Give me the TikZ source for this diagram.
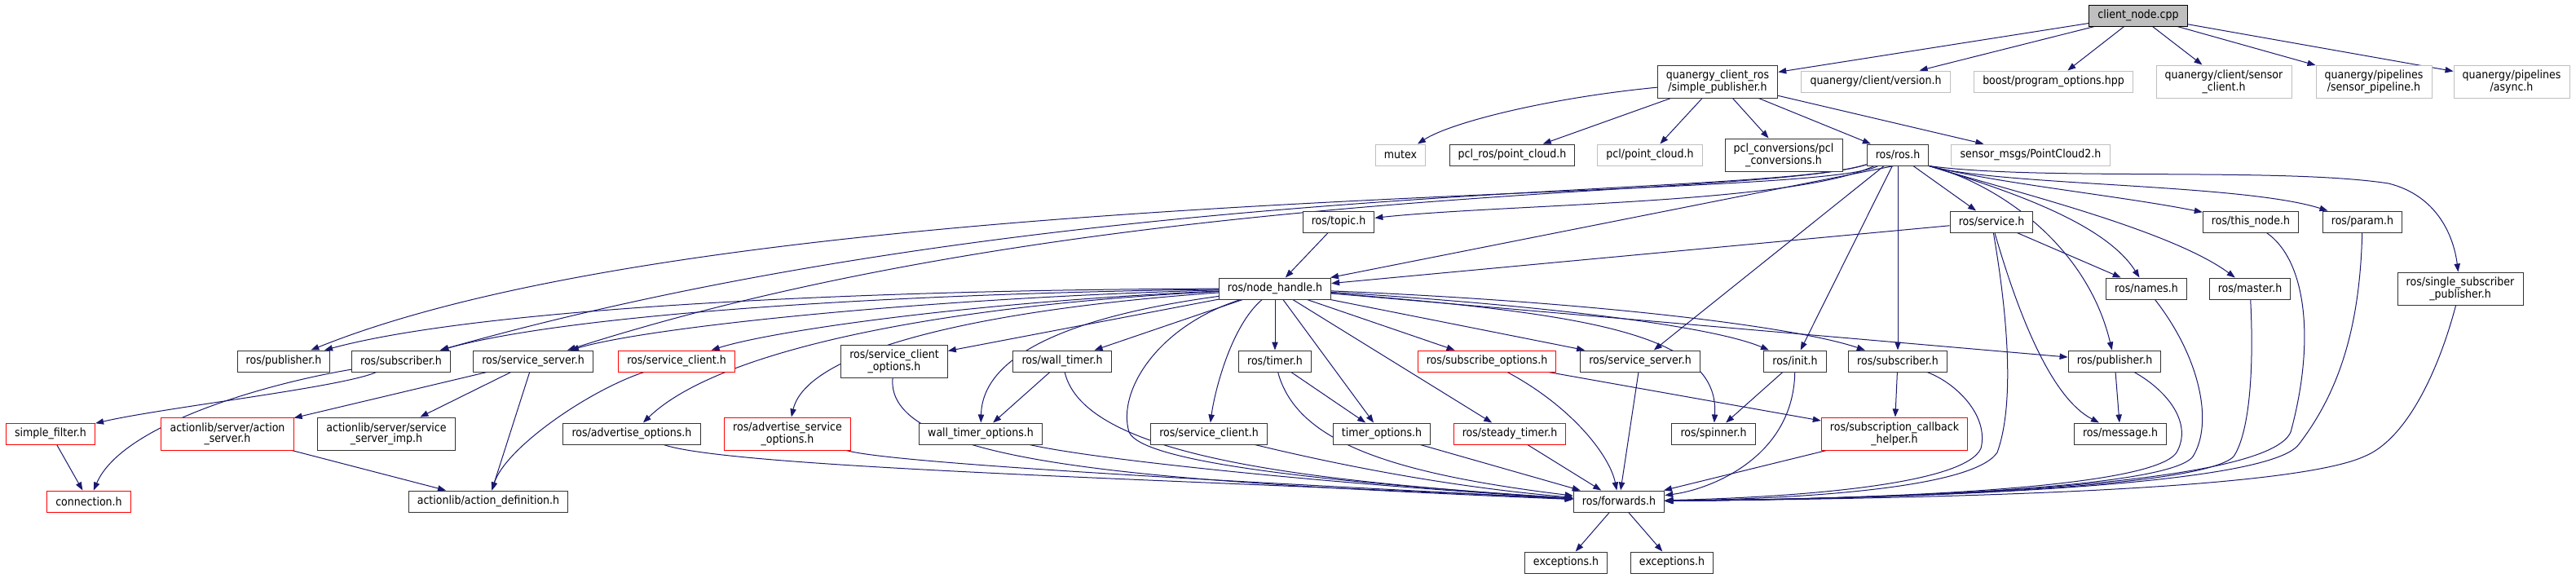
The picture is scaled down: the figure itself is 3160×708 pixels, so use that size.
\documentclass[tikz,border=0pt]{standalone}
\usepackage{fontspec}
\setmainfont{DejaVu Sans Condensed}
\usetikzlibrary{arrows.meta}
\definecolor{edgeblue}{RGB}{25,25,112}
\pgfdeclarelayer{edges}
\pgfsetlayers{edges,main}
\begin{document}
\begin{tikzpicture}[x=0.75pt,y=-0.75pt]
	\tikzstyle{file} = [rectangle, draw=black!80, line width=0.75pt, fill=white, inner xsep=8pt, inner ysep=0pt, minimum height=19.5pt, align=center, font=\fontsize{10.5}{10}\selectfont]
	\tikzstyle{tall} = [minimum height=30pt]
	\tikzstyle{extern} = [draw=black!25]
	\tikzstyle{cut} = [draw=red]
	\tikzstyle{edge} = [draw=edgeblue, line width=0.75pt, -{Triangle[length=7.5pt,width=5.5pt]}]
	\useasboundingbox (0,0) rectangle (3160,708);
	% top rows
	\node [file, fill=black!25, draw=black] (root) at (2623,19) {client\_node.cpp};
	\node [file, tall] (simplepub) at (2107,100) {quanergy\_client\_ros\\/simple\_publisher.h};
	\node [file, extern] (version) at (2301,100) {quanergy/client/version.h};
	\node [file, extern] (boostpo) at (2519,100) {boost/program\_options.hpp};
	\node [file, extern, tall] (sensorclient) at (2728,100) {quanergy/client/sensor\\\_client.h};
	\node [file, extern, tall] (sensorpipe) at (2912,100) {quanergy/pipelines\\/sensor\_pipeline.h};
	\node [file, extern, tall] (async) at (3081,100) {quanergy/pipelines\\/async.h};
	\node [file, extern] (mutex) at (1718,190) {mutex};
	\node [file] (pclros) at (1855,190) {pcl\_ros/point\_cloud.h};
	\node [file, extern] (pclpc) at (2024,190) {pcl/point\_cloud.h};
	\node [file, tall] (pclconv) at (2188,190) {pcl\_conversions/pcl\\\_conversions.h};
	\node [file] (rosh) at (2328,190) {ros/ros.h};
	\node [file, extern] (pc2) at (2491,190) {sensor\_msgs/PointCloud2.h};
	\node [file] (topic) at (1642,272) {ros/topic.h};
	\node [file] (service) at (2443,272) {ros/service.h};
	\node [file] (thisnode) at (2761,272) {ros/this\_node.h};
	\node [file] (param) at (2898,272) {ros/param.h};
	\node [file] (nodehandle) at (1564,354) {ros/node\_handle.h};
	\node [file] (names) at (2633,354) {ros/names.h};
	\node [file] (master) at (2760,354) {ros/master.h};
	\node [file, tall] (singlesub) at (3018,354) {ros/single\_subscriber\\\_publisher.h};
	% middle row
	\node [file] (pubL) at (348,443) {ros/publisher.h};
	\node [file] (subL) at (492,443) {ros/subscriber.h};
	\node [file] (srvsrvL) at (654,443) {ros/service\_server.h};
	\node [file, cut] (srvcliR) at (830,443) {ros/service\_client.h};
	\node [file, tall] (srvcliopt) at (1097,443) {ros/service\_client\\\_options.h};
	\node [file] (walltimer) at (1303,443) {ros/wall\_timer.h};
	\node [file] (timer) at (1564,443) {ros/timer.h};
	\node [file, cut] (subopt) at (1824,443) {ros/subscribe\_options.h};
	\node [file] (srvsrv) at (2012,443) {ros/service\_server.h};
	\node [file] (init) at (2202,443) {ros/init.h};
	\node [file] (sub) at (2328,443) {ros/subscriber.h};
	\node [file] (pubR) at (2594,443) {ros/publisher.h};
	% lower rows
	\node [file, cut] (simplefilter) at (62,532) {simple\_filter.h};
	\node [file, cut, tall] (actsrv) at (279,532) {actionlib/server/action\\\_server.h};
	\node [file, tall] (srvimp) at (474,532) {actionlib/server/service\\\_server\_imp.h};
	\node [file] (advopt) at (775,532) {ros/advertise\_options.h};
	\node [file, cut, tall] (advsrvopt) at (966,532) {ros/advertise\_service\\\_options.h};
	\node [file] (walltimeropt) at (1203,532) {wall\_timer\_options.h};
	\node [file] (srvcli) at (1483,532) {ros/service\_client.h};
	\node [file] (timeropt) at (1695,532) {timer\_options.h};
	\node [file, cut] (steady) at (1852,532) {ros/steady\_timer.h};
	\node [file] (spinner) at (2102,532) {ros/spinner.h};
	\node [file, cut, tall] (subcb) at (2324,532) {ros/subscription\_callback\\\_helper.h};
	\node [file] (message) at (2601,532) {ros/message.h};
	\node [file, cut] (connection) at (109,615) {connection.h};
	\node [file] (actdef) at (599,615) {actionlib/action\_definition.h};
	\node [file] (forwards) at (1986,615) {ros/forwards.h};
	\node [file] (exca) at (1921,690) {exceptions.h};
	\node [file] (excb) at (2051,690) {exceptions.h};
	\begin{pgfonlayer}{edges}
	% client_node.cpp
	\draw [edge] (root) to (simplepub);
	\draw [edge] (root) to (version);
	\draw [edge] (root) to (boostpo);
	\draw [edge] (root) to (sensorclient);
	\draw [edge] (root) to (sensorpipe);
	\draw [edge] (root) to (async);
	% simple_publisher.h
	\draw [edge] (simplepub) .. controls (1900,120) and (1780,150) .. (mutex);
	\draw [edge] (simplepub) to (pclros);
	\draw [edge] (simplepub) to (pclpc);
	\draw [edge] (simplepub) to (pclconv);
	\draw [edge] (simplepub) to (rosh);
	\draw [edge] (simplepub) to (pc2);
	% ros.h
	\draw [edge] (rosh) .. controls (2200,250) and (1850,250) .. (topic);
	\draw [edge] (rosh.250) to (nodehandle);
	\draw [edge] (rosh) .. controls (2220,250) and (900,220) .. (pubL);
	\draw [edge] (rosh) .. controls (2150,245) and (1300,215) .. (subL);
	\draw [edge] (rosh) .. controls (2150,245) and (1350,220) .. (srvsrvL);
	\draw [edge] (rosh) to (srvsrv);
	\draw [edge] (rosh) to (init);
	\draw [edge] (rosh) to (sub);
	\draw [edge] (rosh) to (service);
	\draw [edge] (rosh.south east) .. controls (2450,225) and (2600,240) .. (thisnode);
	\draw [edge] (rosh.south east) .. controls (2450,228) and (2750,225) .. (param);
	\draw [edge] (rosh.south east) .. controls (2500,222) and (2800,205) .. (2930,225) .. controls (2990,240) and (3010,290) .. (singlesub);
	\draw [edge] (rosh.south east) .. controls (2450,230) and (2580,270) .. (names);
	\draw [edge] (rosh.south east) .. controls (2450,230) and (2660,280) .. (master);
	\draw [edge] (rosh.south east) .. controls (2450,225) and (2560,300) .. (pubR);
	\draw [edge] (topic) to (nodehandle);
	\draw [edge] (service) to (nodehandle);
	\draw [edge] (service) to (names);
	\draw [edge] (service) .. controls (2480,400) and (2520,490) .. (message);
	% node_handle.h
	\draw [edge] (nodehandle) .. controls (1100,355) and (600,375) .. (pubL);
	\draw [edge] (nodehandle) .. controls (1100,360) and (700,385) .. (subL);
	\draw [edge] (nodehandle) .. controls (1150,365) and (800,400) .. (srvsrvL);
	\draw [edge] (nodehandle) .. controls (1200,370) and (950,405) .. (srvcliR);
	\draw [edge] (nodehandle) .. controls (1150,375) and (880,430) .. (advopt);
	\draw [edge] (nodehandle) .. controls (1200,380) and (990,430) .. (advsrvopt);
	\draw [edge] (nodehandle) to (srvcliopt);
	\draw [edge] (nodehandle) .. controls (1300,390) and (1205,440) .. (walltimeropt);
	\draw [edge] (nodehandle) to (walltimer);
	\draw [edge] (nodehandle) .. controls (1420,400) and (1370,480) .. (1385,530) .. controls (1400,565) and (1600,590) .. (forwards);
	\draw [edge] (nodehandle) .. controls (1510,400) and (1490,480) .. (srvcli);
	\draw [edge] (nodehandle) to (timer);
	\draw [edge] (nodehandle) to (timeropt);
	\draw [edge] (nodehandle) to (steady);
	\draw [edge] (nodehandle) to (subopt);
	\draw [edge] (nodehandle) to (srvsrv);
	\draw [edge] (nodehandle) .. controls (1900,375) and (2100,400) .. (init);
	\draw [edge] (nodehandle) .. controls (1950,370) and (2200,400) .. (sub);
	\draw [edge] (nodehandle) to (pubR);
	\draw [edge] (nodehandle) .. controls (1950,385) and (2110,410) .. (spinner);
	% left branch
	\draw [edge] (subL) .. controls (420,475) and (200,500) .. (simplefilter);
	\draw [edge] (subL) .. controls (330,470) and (150,520) .. (connection);
	\draw [edge] (simplefilter) to (connection);
	\draw [edge] (srvsrvL) to (actsrv);
	\draw [edge] (srvsrvL) to (srvimp);
	\draw [edge] (srvsrvL) to (actdef);
	\draw [edge] (srvcliR) .. controls (720,480) and (620,550) .. (actdef);
	\draw [edge] (actsrv) to (actdef);
	% middle
	\draw [edge] (walltimer) to (walltimeropt);
	\draw [edge] (timer) to (timeropt);
	\draw [edge] (subopt) to (subcb);
	\draw [edge] (sub) to (subcb);
	\draw [edge] (init) to (spinner);
	\draw [edge] (pubR) to (message);
	% into forwards.h
	\draw [edge] (advopt) .. controls (900,575) and (1500,590) .. (forwards);
	\draw [edge] (advsrvopt) .. controls (1100,570) and (1600,595) .. (forwards);
	\draw [edge] (srvcliopt) .. controls (1085,570) and (1400,590) .. (forwards);
	\draw [edge] (walltimeropt) .. controls (1350,565) and (1650,595) .. (forwards);
	\draw [edge] (walltimer) .. controls (1330,560) and (1600,590) .. (forwards);
	\draw [edge] (srvcli) .. controls (1600,560) and (1750,595) .. (forwards);
	\draw [edge] (timer) .. controls (1590,540) and (1700,580) .. (forwards);
	\draw [edge] (timeropt) to (forwards);
	\draw [edge] (steady) to (forwards);
	\draw [edge] (subopt) .. controls (1930,500) and (1975,560) .. (forwards);
	\draw [edge] (srvsrv) to (forwards);
	\draw [edge] (subcb) to (forwards);
	\draw [edge] (init) .. controls (2200,560) and (2100,600) .. (forwards);
	\draw [edge] (sub) .. controls (2400,470) and (2440,510) .. (2430,550) .. controls (2410,595) and (2200,610) .. (forwards);
	\draw [edge] (service) .. controls (2465,400) and (2470,500) .. (2450,555) .. controls (2420,600) and (2200,612) .. (forwards);
	\draw [edge] (pubR) .. controls (2660,480) and (2690,520) .. (2670,555) .. controls (2640,600) and (2300,612) .. (forwards);
	\draw [edge] (names) .. controls (2700,440) and (2715,520) .. (2690,560) .. controls (2660,600) and (2300,612) .. (forwards);
	\draw [edge] (master) .. controls (2765,450) and (2760,530) .. (2740,560) .. controls (2700,600) and (2300,612) .. (forwards);
	\draw [edge] (thisnode) .. controls (2830,320) and (2840,420) .. (2810,530) .. controls (2780,600) and (2300,612) .. (forwards);
	\draw [edge] (param) .. controls (2895,400) and (2870,480) .. (2820,545) .. controls (2780,600) and (2300,612) .. (forwards);
	\draw [edge] (singlesub) .. controls (2990,460) and (2950,540) .. (2900,560) .. controls (2800,605) and (2300,612) .. (forwards);
	\draw [edge] (forwards) to (exca);
	\draw [edge] (forwards) to (excb);
	\end{pgfonlayer}
\end{tikzpicture}
\end{document}
